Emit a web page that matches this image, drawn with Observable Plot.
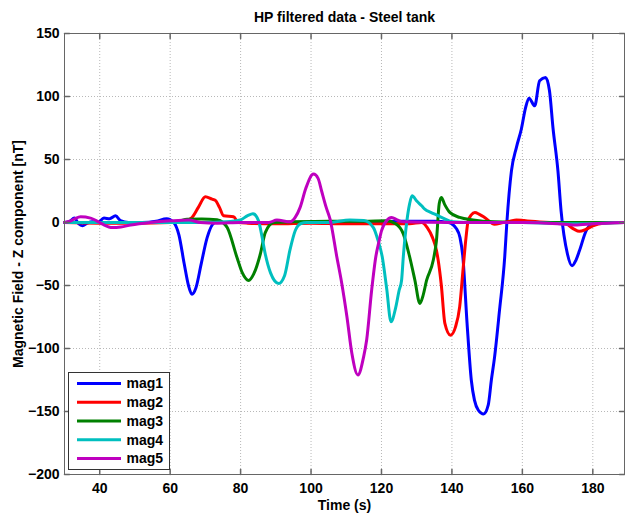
<!DOCTYPE html>
<html>
<head>
<meta charset="utf-8">
<script src="https://cdn.jsdelivr.net/npm/d3@7"></script>
<script src="https://cdn.jsdelivr.net/npm/@observablehq/plot@0.6"></script>
<style>
  html, body { margin: 0; padding: 0; background: #fff; }
  #wrap { position: relative; width: 625px; height: 516px; font-family: "Liberation Sans", Arial, sans-serif; }
  #legend { position: absolute; left: 68px; top: 372px; }
</style>
</head>
<body>
<div id="wrap"><div id="chart"></div><div id="legend"></div></div>
<script>
const title = "HP filtered data - Steel tank";
const xLabel = "Time (s)";
const yLabel = "Magnetic Field - Z component [nT]";
const xTicks = [40, 60, 80, 100, 120, 140, 160, 180];
const yTicks = [150, 100, 50, 0, -50, -100, -150, -200];
const xDomain = [30, 189];
const yDomain = [-200, 150];

const seriesNames = ["mag1", "mag2", "mag3", "mag4", "mag5"];
const seriesColors = ["#0000ff", "#ff0000", "#008000", "#00bfbf", "#bf00bf"];

const mag1T = [30, 31.5, 32.8, 34, 35.1, 36.5, 37.9, 39.5, 41.2, 42.8, 44.5, 45.9, 48.2, 52, 56, 59, 61, 62.5, 64, 65.2, 66.2, 67.3, 68.8, 70.5, 72.8, 76, 90, 110, 125, 135, 139, 141.3, 142.3, 143.1, 144.3, 145.5, 146.4, 147.5, 149, 150.3, 151.2, 152.1, 153.5, 155, 155.6, 156.9, 158.3, 159.7, 160.9, 161.9, 163.5, 164.9, 166.6, 167.7, 168.7, 170.1, 171, 172.8, 174.1, 175.2, 176.2, 178.1, 180, 183, 189];
const mag1V = [0, 1, 3.5, -1, -2.6, -0.5, 0.5, 0, 3.5, 3, 5.3, 1.5, 0, 0, 1, 3, 0, -10, -33, -50, -57, -52, -33, -12, 0, 0, 0, 0.5, 1, 1, 0, -5, -12, -27, -80, -125, -141, -149, -152, -145, -125, -107, -70, -27, 0, 41, 59.5, 74, 91, 98.7, 92.6, 112.5, 115, 104.5, 75, 41, 9, -25, -34.4, -30, -22.5, -6.6, -1, 0, 0];

const mag2T = [30, 40, 50, 60, 64, 66.2, 68, 70, 71.9, 72.8, 74, 75.2, 78, 79.4, 82, 90, 100, 110, 120, 128, 131.4, 133, 134.5, 135.6, 136.1, 137, 138, 139.6, 141, 142.2, 143.2, 144, 144.6, 145.5, 146.5, 147.8, 149.3, 152.1, 154.5, 156.5, 158.3, 160.5, 162.5, 168, 172, 174.5, 176.2, 178, 180, 183, 189];
const mag2V = [0, -0.5, -0.5, 0, 1, 4, 12, 20.4, 18.5, 17.7, 12, 5.3, 4.5, 0, -0.5, -1, -0.5, -1, -1, -1, 0, -4, -12, -22, -30, -50, -80, -89.4, -83, -67, -36, -12, 1.3, 6, 8, 6.5, 4, -1.3, 0, 1, 2, 1.5, 1, 0, -0.5, -5, -7, -5.5, -2.6, -0.5, 0];

const mag3T = [30, 50, 60, 61, 63, 64.8, 69, 73.3, 75, 76.2, 79, 80.5, 82.3, 83.7, 85.6, 87, 89.4, 95, 105, 115, 121.5, 124, 126.2, 127.8, 129.5, 130.9, 131.8, 132.8, 134.7, 135.6, 136.4, 137, 138, 139.4, 142.2, 146, 152, 160, 170, 189];
const mag3V = [0, 0, 0, 0, 1.5, 2.6, 2.8, 2.1, 0, -4, -28, -40, -46, -41, -25, -8, 0, 0.5, 1, 1, 1.3, -1, -9, -25, -46, -64.3, -58, -46, -30, -14.5, 15, 19.8, 14, 8, 4, 2, 0.5, 0, 0, 0];

const mag4T = [30, 50, 70, 76, 79.9, 82, 83.5, 85.1, 86, 87, 88.5, 90.8, 92.5, 94, 95.5, 97, 98.8, 105, 111, 115, 117.7, 119, 120.2, 121.5, 122.7, 124, 125, 125.7, 126.2, 127.2, 128, 128.7, 130, 131.4, 132.3, 134, 135.6, 137.5, 140.3, 145, 160, 175, 189];
const mag4V = [0, 0, 0, 0.5, 2, 5.5, 7, 1.3, -10, -25, -40, -48.4, -42, -22, -6.6, -1, 0, 0, 2, 1.5, -4, -14, -27, -53, -78.8, -68, -54, -46, -27, 1, 15, 21.2, 17, 13.3, 10.6, 8, 6, 3.5, 0.5, 0, 0, -1, 0];

const mag5T = [30, 31.5, 32.7, 34.6, 37.4, 39, 40.8, 43.6, 46, 48.8, 54.4, 60.1, 65.3, 68.6, 73.3, 80, 88, 90.3, 94.1, 95.5, 96.9, 98.5, 100.7, 102, 103, 104.3, 105.4, 107.3, 108.7, 110.2, 111.6, 113.3, 114.9, 115.8, 117.2, 118.4, 119.3, 120, 121.3, 122.9, 124.5, 126.2, 140, 160, 170, 175, 180, 189];
const mag5V = [0, 1, 2.6, 4.5, 3.5, 1.5, -1.3, -4, -3.5, -2, 0, 1.3, 2, 0, -0.5, 0, 0, 2, 0.5, 4, 12, 27, 38.4, 35, 25, 12, 2.7, -27, -48, -75, -104, -121, -107, -93, -54, -27, -15, -6.6, 1, 4, 2, 0.5, 0, 0, -1, -2, -1, 0];

const seriesT = [mag1T, mag2T, mag3T, mag4T, mag5T];
const seriesV = [mag1V, mag2V, mag3V, mag4V, mag5V];

const font = "'Liberation Sans', Arial, sans-serif";
const axisColor = "#666";

const tickShape = { draw(context, l) { context.moveTo(0, 0); context.lineTo(0, -l); } };

const lineMarks = seriesNames.map((name, i) =>
  Plot.line(seriesT[i].map((t, j) => ({t, v: seriesV[i][j]})), {
    x: "t", y: "v", stroke: seriesColors[i], strokeWidth: 3, curve: "monotone-x",
    strokeLinejoin: "round", strokeLinecap: "round"
  })
);

const chart = Plot.plot({
  width: 625,
  height: 516,
  marginTop: 33,
  marginBottom: 42,
  marginLeft: 64,
  marginRight: 1,
  style: { fontFamily: font, fontSize: "14px", fontWeight: "bold", color: "#000", background: "#fff" },
  x: { domain: xDomain, axis: null },
  y: { domain: yDomain, axis: null },
  marks: [
    Plot.gridX(xTicks, { stroke: "#b8b8b8", strokeOpacity: 1, strokeDasharray: "1,2" }),
    Plot.gridY(yTicks, { stroke: "#b8b8b8", strokeOpacity: 1, strokeDasharray: "1,2" }),
    ...lineMarks,
    Plot.vector(xTicks, { x: d => d, frameAnchor: "bottom", length: 5, rotate: 0, anchor: "start", shape: tickShape, stroke: axisColor }),
    Plot.vector(xTicks, { x: d => d, frameAnchor: "top", length: 5, rotate: 180, anchor: "start", shape: tickShape, stroke: axisColor }),
    Plot.vector(yTicks, { y: d => d, frameAnchor: "left", length: 5, rotate: 90, anchor: "start", shape: tickShape, stroke: axisColor }),
    Plot.vector(yTicks, { y: d => d, frameAnchor: "right", length: 5, rotate: -90, anchor: "start", shape: tickShape, stroke: axisColor }),
    Plot.frame({ stroke: axisColor, strokeWidth: 1 }),
    Plot.axisX(xTicks, { anchor: "bottom", tickSize: 0, tickPadding: 9, fontSize: 14, fontWeight: "bold", label: null, fill: "#000" }),
    Plot.axisY(yTicks, { anchor: "left", tickSize: 0, tickPadding: 5, fontSize: 14, fontWeight: "bold", label: null, fill: "#000" }),
    Plot.text([title], { frameAnchor: "top", dy: -16, lineAnchor: "middle", textAnchor: "middle", text: d => d, fontSize: 14, fontWeight: "bold", fill: "#000" }),
    Plot.text([xLabel], { frameAnchor: "bottom", dy: 31, lineAnchor: "middle", textAnchor: "middle", text: d => d, fontSize: 14, fontWeight: "bold", fill: "#000" }),
    Plot.text([yLabel], { frameAnchor: "left", dx: -46, rotate: -90, lineAnchor: "middle", textAnchor: "middle", text: d => d, fontSize: 14, fontWeight: "bold", fill: "#000" })
  ]
});
document.getElementById("chart").appendChild(chart);

// Legend
const lw = 102, lh = 98, rowStep = 18.75, rowTop = 11.5;
const leg = d3.select("#legend").append("svg").attr("width", lw).attr("height", lh)
  .style("font-family", font).style("font-size", "14px").style("font-weight", "bold");
leg.append("rect").attr("x", 0.5).attr("y", 0.5).attr("width", lw - 1).attr("height", lh - 1)
  .attr("fill", "#fff").attr("stroke", "#333");
const rows = leg.selectAll("g.row").data(seriesNames).join("g")
  .attr("transform", (d, i) => `translate(0,${rowTop + i * rowStep})`);
rows.append("line").attr("x1", 9).attr("x2", 53).attr("y1", 0).attr("y2", 0)
  .attr("stroke", (d, i) => seriesColors[i]).attr("stroke-width", 3);
rows.append("text").attr("x", 58.5).attr("y", 0).attr("dy", "0.35em").attr("fill", "#000").text(d => d);
</script>
</body>
</html>
